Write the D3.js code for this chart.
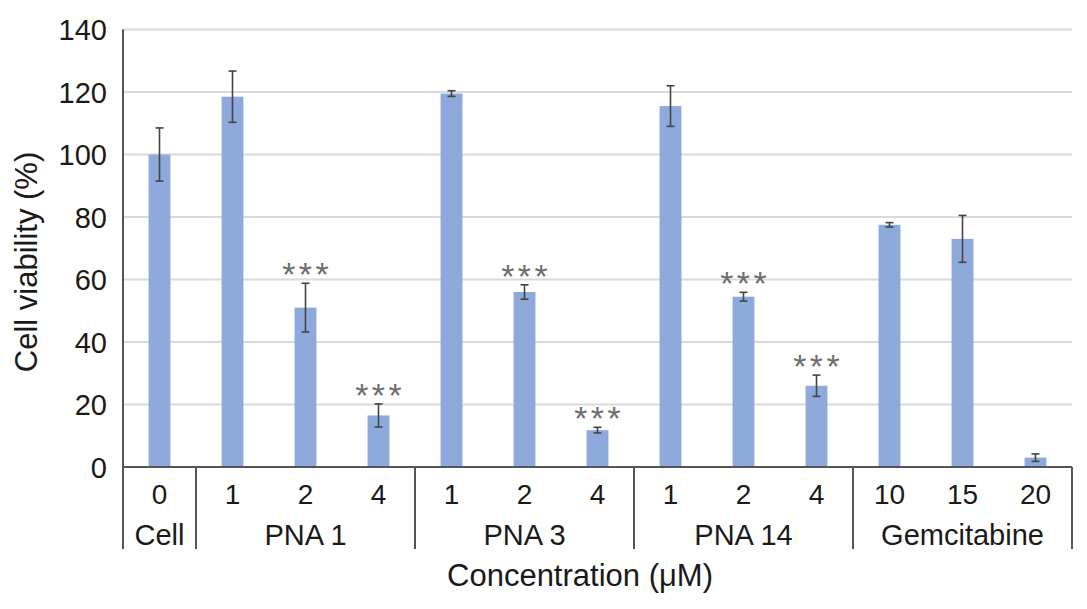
<!DOCTYPE html>
<html>
<head>
<meta charset="utf-8">
<script src="https://cdn.jsdelivr.net/npm/d3@7"></script>
<style>
  body { margin: 0; background: #fff; }
  text { font-family: "Liberation Sans", Arial, sans-serif; }
</style>
</head>
<body>
<div class="svgtarget"></div>
<script>
// chart data
var groups = ["Cell", "PNA 1", "PNA 3", "PNA 14", "Gemcitabine"];
var doses = [["0"], ["1", "2", "4"], ["1", "2", "4"], ["1", "2", "4"], ["10", "15", "20"]];
var viability = [100, 118.5, 51, 16.5, 119.5, 56, 11.8, 115.5, 54.5, 26, 77.5, 73, 3];
var errors = [8.5, 8.2, 7.8, 3.7, 0.9, 2.3, 0.9, 6.5, 1.4, 3.4, 0.7, 7.5, 1.2];
var stars = ["", "", "***", "***", "", "***", "***", "", "***", "***", "", "", ""];
var yTicks = [0, 20, 40, 60, 80, 100, 120, 140];

var W = 1087, H = 609;
var plotL = 123, plotR = 1072, plotT = 29.5, plotB = 467;

var svg = d3.select(".svgtarget").append("svg")
    .attr("width", W).attr("height", H);

// flatten categories
var cats = [];
groups.forEach(function(g, gi) {
    doses[gi].forEach(function(d) { cats.push({group: g, dose: d}); });
});
cats.forEach(function(c, i) {
    c.value = viability[i]; c.err = errors[i]; c.star = stars[i]; c.i = i;
});

var x = d3.scaleBand().domain(d3.range(cats.length)).range([plotL, plotR]).paddingInner(0.7).paddingOuter(0.35);
var xStep = d3.scaleBand().domain(d3.range(cats.length)).range([plotL, plotR]);
var y = d3.scaleLinear().domain([0, 140]).range([plotB, plotT]);

// gridlines
svg.append("g").selectAll("line").data(yTicks.filter(t => t > 0)).enter().append("line")
   .attr("x1", plotL).attr("x2", plotR)
   .attr("y1", d => y(d)).attr("y2", d => y(d))
   .attr("stroke", "#dadada").attr("stroke-width", 2);

// y axis
var yAxis = svg.append("g").attr("transform", "translate(" + plotL + ",0)")
    .call(d3.axisLeft(y).tickValues(yTicks).tickSize(0).tickPadding(16));
yAxis.select(".domain").remove();
yAxis.selectAll("text").attr("font-size", 29).attr("fill", "#1a1a1a").attr("dy", "0.36em")
     .attr("font-family", "'Liberation Sans', Arial, sans-serif");

// bars
svg.append("g").selectAll("rect").data(cats).enter().append("rect")
   .attr("x", d => x(d.i))
   .attr("width", x.bandwidth())
   .attr("y", d => y(d.value))
   .attr("height", d => plotB - y(d.value))
   .attr("fill", "#8eaadc");

// error bars
var eb = svg.append("g").selectAll("g").data(cats).enter().append("g")
    .attr("stroke", "#444").attr("stroke-width", 1.6);
eb.append("line")
  .attr("x1", d => x(d.i) + x.bandwidth() / 2).attr("x2", d => x(d.i) + x.bandwidth() / 2)
  .attr("y1", d => y(d.value + d.err)).attr("y2", d => y(d.value - d.err));
eb.append("line")
  .attr("x1", d => x(d.i) + x.bandwidth() / 2 - 4).attr("x2", d => x(d.i) + x.bandwidth() / 2 + 4)
  .attr("y1", d => y(d.value + d.err)).attr("y2", d => y(d.value + d.err));
eb.append("line")
  .attr("x1", d => x(d.i) + x.bandwidth() / 2 - 4).attr("x2", d => x(d.i) + x.bandwidth() / 2 + 4)
  .attr("y1", d => y(d.value - d.err)).attr("y2", d => y(d.value - d.err));

// significance stars
svg.append("g").selectAll("text").data(cats.filter(d => d.star)).enter().append("text")
   .attr("x", d => x(d.i) + x.bandwidth() / 2)
   .attr("dx", 1.75)
   .attr("y", d => y(d.value + d.err) + 3)
   .attr("text-anchor", "middle")
   .attr("font-size", 34)
   .attr("letter-spacing", 3.5)
   .attr("fill", "#6e6e6e")
   .text(d => d.star);

// axis lines
svg.append("line").attr("x1", plotL).attr("x2", plotL).attr("y1", plotT).attr("y2", 549)
   .attr("stroke", "#555").attr("stroke-width", 2);
svg.append("line").attr("x1", plotL).attr("x2", plotR).attr("y1", plotB).attr("y2", plotB)
   .attr("stroke", "#555").attr("stroke-width", 2);

// dose labels
svg.append("g").selectAll("text").data(cats).enter().append("text")
   .attr("x", d => xStep(d.i) + xStep.bandwidth() / 2)
   .attr("y", 504)
   .attr("text-anchor", "middle")
   .attr("font-size", 28).attr("fill", "#1a1a1a")
   .text(d => d.dose);

// group labels and separators
var idx = 0, bounds = [];
groups.forEach(function(g, gi) {
    bounds.push({name: g, start: idx, end: idx + doses[gi].length});
    idx += doses[gi].length;
});
svg.append("g").selectAll("line").data(bounds).enter().append("line")
   .attr("x1", d => xStep(d.end - 1) + xStep.bandwidth()).attr("x2", d => xStep(d.end - 1) + xStep.bandwidth())
   .attr("y1", plotB).attr("y2", 549)
   .attr("stroke", "#555").attr("stroke-width", 2);
svg.append("g").selectAll("text").data(bounds).enter().append("text")
   .attr("x", d => (xStep(d.start) + xStep(d.end - 1) + xStep.bandwidth()) / 2)
   .attr("y", 545)
   .attr("text-anchor", "middle")
   .attr("font-size", 29).attr("fill", "#1a1a1a")
   .text(d => d.name);

// axis titles
svg.append("text").attr("x", 580).attr("y", 586)
   .attr("text-anchor", "middle").attr("font-size", 31).attr("fill", "#1a1a1a")
   .text("Concentration (μM)");
svg.append("text").attr("transform", "translate(37,262) rotate(-90)")
   .attr("text-anchor", "middle").attr("font-size", 31).attr("fill", "#1a1a1a")
   .text("Cell viability (%)");
</script>
</body>
</html>
